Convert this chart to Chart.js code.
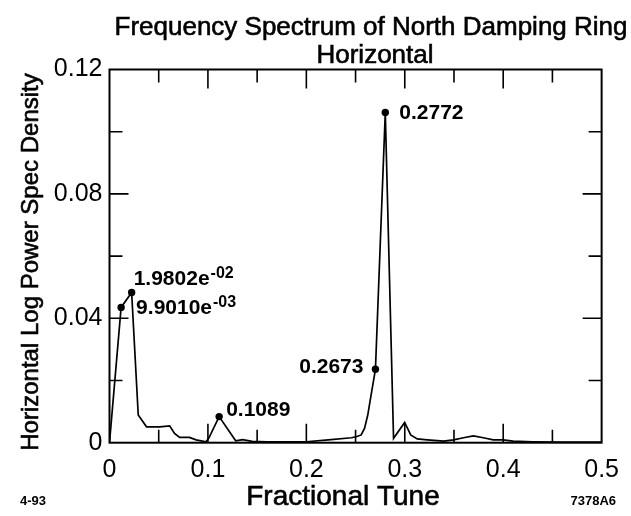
<!DOCTYPE html>
<html>
<head>
<meta charset="utf-8">
<title>Frequency Spectrum of North Damping Ring</title>
<script src="https://cdn.jsdelivr.net/npm/chart.js@4.4.0/dist/chart.umd.min.js"></script>
<style>
  body { margin: 0; background: #fff; }
  #wrap { width: 631px; height: 516px; }
</style>
</head>
<body>
<div id="wrap"><canvas id="espectro"></canvas></div>
<script>
// spectrum: fractional tune vs power
const tune = [0.000, 0.0118, 0.0225, 0.0292, 0.0376, 0.0510, 0.0611, 0.0661, 0.0712, 0.0812,
  0.0880, 0.0980, 0.1008, 0.1114, 0.1282, 0.1352, 0.1450, 0.1600, 0.2000, 0.2223,
  0.2457, 0.2507, 0.2557, 0.2591, 0.2624, 0.2658, 0.2702, 0.2802, 0.2886, 0.2999,
  0.3060, 0.3127, 0.3228, 0.3396, 0.3496, 0.3597, 0.3697, 0.3798, 0.3899, 0.4000,
  0.4100, 0.4300, 0.4600, 0.5000];
const density = [0.0000, 0.0435, 0.0483, 0.0089, 0.0051, 0.0051, 0.0054, 0.0030, 0.0017, 0.0017,
  0.0009, 0.0003, 0.0014, 0.0084, 0.0006, 0.0010, 0.0004, 0.0003, 0.0003, 0.0009,
  0.0016, 0.0019, 0.0025, 0.0046, 0.0089, 0.0154, 0.0236, 0.1062, 0.0014, 0.0065,
  0.0025, 0.0012, 0.0009, 0.0005, 0.0009, 0.0016, 0.0022, 0.0016, 0.0009, 0.0009,
  0.0005, 0.0003, 0.0002, 0.0002];

// marked peaks
const markTune = [0.0118, 0.0225, 0.1114, 0.2702, 0.2802];
const markDensity = [0.0435, 0.0483, 0.0084, 0.0236, 0.1062];
const markText = ['9.9010e', '1.9802e', '0.1089', '0.2673', '0.2772'];
const markExp = ['-03', '-02', '', '', ''];

const xTickValues = [0, 0.1, 0.2, 0.3, 0.4, 0.5];
const xTickLabels = ['0', '0.1', '0.2', '0.3', '0.4', '0.5'];
const xMinorTicks = [0.05, 0.15, 0.25, 0.35, 0.45];
const yTickValues = [0, 0.04, 0.08, 0.12];
const yTickLabels = ['0', '0.04', '0.08', '0.12'];
const yMinorTicks = [0.02, 0.06, 0.10];

const fonte = '"Liberation Sans", Arial, Helvetica, sans-serif';

// where each peak label sits relative to its dot
const labelPos = [
    { dx: 15, dy: 1, align: 'left' },
    { dx: 2, dy: -13, align: 'left' },
    { dx: 7, dy: -6, align: 'left' },
    { dx: -12, dy: -2, align: 'right' },
    { dx: 14, dy: 1, align: 'left' }
];

// scanned text looks heavier, so fill + thin stroke
function texto(ctx, s, x, y) {
    ctx.fillText(s, x, y);
    ctx.strokeText(s, x, y);
}

const molduraPlugin = {
    id: 'moldura',
    afterDraw(chart) {
        const ctx = chart.ctx;
        const a = chart.chartArea;
        const x = chart.scales.x;
        const y = chart.scales.y;
        ctx.save();
        ctx.strokeStyle = '#000';
        ctx.lineWidth = 2;
        ctx.strokeRect(a.left, a.top, a.right - a.left, a.bottom - a.top);

        // inward ticks on all four sides
        ctx.lineWidth = 1.6;
        ctx.beginPath();
        function tickX(v, len) {
            const px = x.getPixelForValue(v);
            ctx.moveTo(px, a.bottom); ctx.lineTo(px, a.bottom - len);
            ctx.moveTo(px, a.top); ctx.lineTo(px, a.top + len);
        }
        function tickY(v, len) {
            const py = y.getPixelForValue(v);
            ctx.moveTo(a.left, py); ctx.lineTo(a.left + len, py);
            ctx.moveTo(a.right, py); ctx.lineTo(a.right - len, py);
        }
        xTickValues.slice(1, -1).forEach(v => tickX(v, 19));
        xMinorTicks.forEach(v => tickX(v, 13));
        yTickValues.slice(1, -1).forEach(v => tickY(v, 19));
        yMinorTicks.forEach(v => tickY(v, 13));
        ctx.stroke();

        // peak labels
        ctx.fillStyle = '#000';
        ctx.lineWidth = 0.5;
        ctx.textBaseline = 'middle';
        for (let i = 0; i < markTune.length; i++) {
            const px = x.getPixelForValue(markTune[i]);
            const py = y.getPixelForValue(markDensity[i]);
            const p = labelPos[i];
            ctx.font = 'bold 21px ' + fonte;
            ctx.textAlign = p.align;
            ctx.fillText(markText[i], px + p.dx, py + p.dy);
            if (markExp[i]) {
                const w = ctx.measureText(markText[i]).width;
                ctx.font = 'bold 16px ' + fonte;
                ctx.textAlign = 'left';
                ctx.fillText(markExp[i], px + p.dx + w + 1, py + p.dy - 6);
            }
        }

        // titles
        ctx.lineWidth = 0.6;
        ctx.textAlign = 'center';
        ctx.font = '26px ' + fonte;
        texto(ctx, 'Frequency Spectrum of North Damping Ring', 371, 28);
        texto(ctx, 'Horizontal', 375, 56);
        ctx.font = '28px ' + fonte;
        texto(ctx, 'Fractional Tune', 343, 497);

        ctx.save();
        ctx.translate(31, 262);
        ctx.rotate(-Math.PI / 2);
        ctx.font = '24px ' + fonte;
        texto(ctx, 'Horizontal Log Power Spec Density', 0, 0);
        ctx.restore();

        ctx.font = 'bold 13px ' + fonte;
        ctx.textAlign = 'left';
        ctx.fillText('4-93', 20, 501);
        ctx.textAlign = 'right';
        ctx.fillText('7378A6', 616, 501);
        ctx.restore();
    }
};

new Chart(document.getElementById('espectro'), {
    type: 'line',
    data: {
        datasets: [{
            data: tune.map((t, i) => ({ x: t, y: density[i] })),
            borderColor: '#000',
            borderWidth: 1.7,
            pointRadius: 0,
            tension: 0,
            fill: false
        },
        {
            data: markTune.map((t, i) => ({ x: t, y: markDensity[i] })),
            showLine: false,
            pointRadius: 3.7,
            pointBackgroundColor: '#000',
            pointBorderWidth: 0
        }]
    },
    options: {
        responsive: true,
        maintainAspectRatio: false,
        animation: false,
        devicePixelRatio: 1,
        layout: { padding: { left: 0, right: 26, top: 69.5, bottom: 0 } },
        plugins: {
            legend: { display: false },
            tooltip: { enabled: false }
        },
        scales: {
            x: {
                type: 'linear',
                min: 0,
                max: 0.5,
                grid: { display: false, drawTicks: false },
                border: { display: false },
                afterBuildTicks: s => { s.ticks = xTickValues.map(v => ({ value: v })); },
                afterFit: s => { s.height = 516 - 442.7; },
                ticks: {
                    callback: (v, i) => xTickLabels[i],
                    color: '#000',
                    font: { family: fonte, size: 25 },
                    padding: 12,
                    maxRotation: 0,
                    autoSkip: false
                }
            },
            y: {
                min: 0,
                max: 0.12,
                grid: { display: false, drawTicks: false },
                border: { display: false },
                afterBuildTicks: s => { s.ticks = yTickValues.map(v => ({ value: v })); },
                afterFit: s => { s.width = 109.5; },
                ticks: {
                    callback: (v, i) => yTickLabels[i],
                    color: '#000',
                    font: { family: fonte, size: 25 },
                    padding: 7,
                    autoSkip: false
                }
            }
        }
    },
    plugins: [molduraPlugin]
});
</script>
</body>
</html>
